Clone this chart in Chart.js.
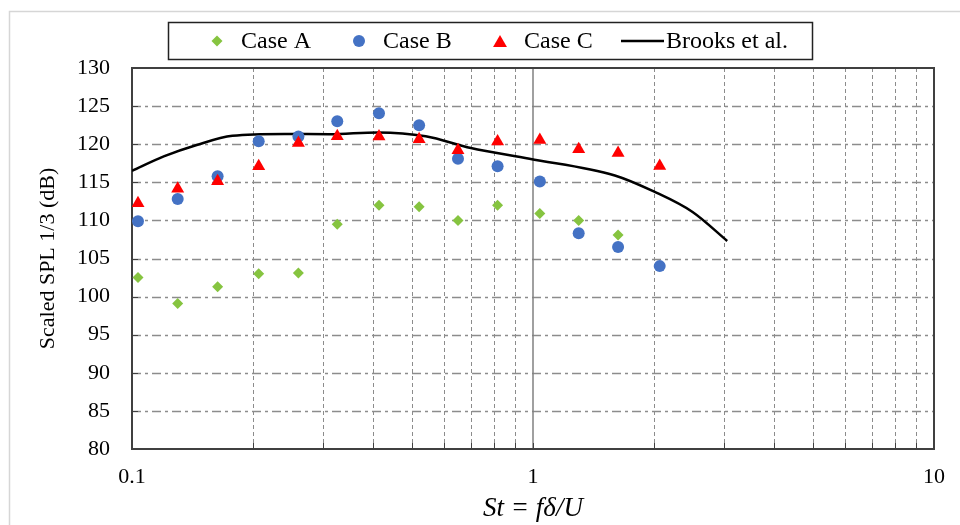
<!DOCTYPE html>
<html>
<head>
<meta charset="utf-8">
<script src="https://cdn.jsdelivr.net/npm/chart.js@4.4.1/dist/chart.umd.min.js"></script>
<style>
  html, body { margin: 0; padding: 0; background: #fff; }
  #wrap { width: 960px; height: 525px; }
</style>
</head>
<body>
<div id="wrap"><canvas id="chart" width="960" height="525"></canvas></div>
<script>
// Strouhal numbers (1/3 octave bands) shared by the three cases
const strouhal = [0.1035, 0.130, 0.1635, 0.207, 0.260, 0.325, 0.413, 0.520, 0.650, 0.816, 1.04, 1.30, 1.63, 2.07];
const caseA = [102.5, 99.1, 101.3, 103.0, 103.1, 109.5, 112.0, 111.8, 110.0, 112.0, 110.9, 110.0, 108.1, null];
const caseB = [109.9, 112.8, 115.8, 120.4, 121.0, 123.0, 124.05, 122.5, 118.1, 117.1, 115.1, 108.3, 106.5, 104.0];
const caseC = [112.25, 114.15, 115.15, 117.1, 120.15, 121.05, 121.0, 120.65, 119.2, 120.35, 120.55, 119.35, 118.85, 117.15];

const brooksSt  = [0.1, 0.12, 0.145, 0.178, 0.24, 0.31, 0.41, 0.54, 0.70, 0.98, 1.6, 2.0, 2.5, 3.05];
const brooksSpl = [116.5, 118.4, 119.9, 121.1, 121.35, 121.3, 121.55, 121.05, 119.5, 118.1, 115.9, 113.8, 111.1, 107.3];

const xTicks = [0.1, 1, 10];
const yMin = 80, yMax = 130, yStep = 5;

const FONT = '"Liberation Serif", "Times New Roman", serif';

const pts = (xs, ys) => xs.map((x, i) => ({ x, y: ys[i] })).filter(p => p.y !== null);

function drawMarker(ctx, style, x, y, r, color) {
  ctx.fillStyle = color;
  ctx.beginPath();
  if (style === 'circle') {
    ctx.arc(x, y, r, 0, Math.PI * 2);
  } else if (style === 'rectRot') {
    ctx.moveTo(x, y - r); ctx.lineTo(x + r, y); ctx.lineTo(x, y + r); ctx.lineTo(x - r, y);
  } else if (style === 'triangle') {
    ctx.moveTo(x, y - r); ctx.lineTo(x + r * 0.866, y + r / 2); ctx.lineTo(x - r * 0.866, y + r / 2);
  }
  ctx.closePath();
  ctx.fill();
}

// grid, frame, inner ticks, outer border and the boxed legend
const decor = {
  id: 'decor',
  beforeDraw(chart) {
    const ctx = chart.ctx;
    ctx.save();
    ctx.strokeStyle = '#d6d6d6';
    ctx.lineWidth = 1.5;
    ctx.strokeRect(9.5, 11.5, 1000, 600);
    ctx.restore();
  },
  beforeDatasetsDraw(chart) {
    const { ctx, chartArea: a, scales: { x, y } } = chart;
    ctx.save();
    // horizontal dash-dot grid
    ctx.strokeStyle = '#8c8c8c';
    ctx.lineWidth = 1.5;
    ctx.setLineDash([9, 4, 3, 4]);
    for (let v = yMin + yStep; v < yMax; v += yStep) {
      const py = Math.round(y.getPixelForValue(v)) + 0.5;
      ctx.beginPath(); ctx.moveTo(a.left, py); ctx.lineTo(a.right, py); ctx.stroke();
    }
    // vertical minor grid
    ctx.lineWidth = 1;
    ctx.strokeStyle = '#8c8c8c';
    ctx.setLineDash([4, 3]);
    const minors = [];
    for (let d = 0.1; d < 10; d *= 10) {
      for (let k = 2; k <= 9; k++) minors.push(k * d);
    }
    minors.forEach(v => {
      const px = Math.round(x.getPixelForValue(v)) + 0.5;
      ctx.beginPath(); ctx.moveTo(px, a.top); ctx.lineTo(px, a.bottom); ctx.stroke();
    });
    // solid line at St = 1
    ctx.setLineDash([]);
    ctx.strokeStyle = '#808080';
    ctx.lineWidth = 1.5;
    const p1 = x.getPixelForValue(1);
    ctx.beginPath(); ctx.moveTo(p1, a.top); ctx.lineTo(p1, a.bottom); ctx.stroke();
    // inner tick marks
    ctx.strokeStyle = '#404040';
    ctx.lineWidth = 1;
    minors.concat([1]).forEach(v => {
      const px = Math.round(x.getPixelForValue(v)) + 0.5;
      ctx.beginPath(); ctx.moveTo(px, a.bottom - 6); ctx.lineTo(px, a.bottom); ctx.stroke();
    });
    for (let v = yMin + yStep; v < yMax; v += yStep) {
      const py = Math.round(y.getPixelForValue(v)) + 0.5;
      ctx.beginPath(); ctx.moveTo(a.left, py); ctx.lineTo(a.left + 6, py); ctx.stroke();
    }
    // plot frame
    ctx.strokeStyle = '#404040';
    ctx.lineWidth = 2;
    ctx.strokeRect(a.left, a.top, a.right - a.left, a.bottom - a.top);
    ctx.restore();
  },
  afterDraw(chart) {
    const ctx = chart.ctx;
    const ds = chart.data.datasets;
    ctx.save();
    ctx.fillStyle = '#fff';
    ctx.fillRect(168, 22, 644, 37);
    ctx.strokeStyle = '#222';
    ctx.lineWidth = 1.5;
    ctx.strokeRect(168.5, 22.5, 644, 37);

    const markX = [217, 359, 500];
    const textX = [241, 383, 524, 666];
    const legR = [5.5, 6, 8];
    const legY = [41, 41, 43];
    for (let i = 0; i < 3; i++) {
      drawMarker(ctx, ds[i].pointStyle, markX[i], legY[i], legR[i], ds[i].backgroundColor);
    }
    ctx.strokeStyle = ds[3].borderColor;
    ctx.lineWidth = 2.5;
    ctx.beginPath(); ctx.moveTo(621, 41); ctx.lineTo(664, 41); ctx.stroke();

    ctx.fillStyle = '#000';
    ctx.font = '24px ' + FONT;
    ctx.textBaseline = 'alphabetic';
    ctx.textAlign = 'left';
    ds.forEach((d, i) => ctx.fillText(d.label, textX[i], 48));
    ctx.restore();
  }
};

new Chart(document.getElementById('chart'), {
  type: 'scatter',
  data: {
    datasets: [
      { label: 'Case A', data: pts(strouhal, caseA), pointStyle: 'rectRot', pointRadius: 5.5,
        backgroundColor: '#86C440', borderWidth: 0, order: 2 },
      { label: 'Case B', data: pts(strouhal, caseB), pointStyle: 'circle', pointRadius: 6,
        backgroundColor: '#4472C4', borderWidth: 0, order: 1 },
      { label: 'Case C', data: pts(strouhal, caseC), pointStyle: 'triangle', pointRadius: 7.5,
        backgroundColor: '#FF0000', borderWidth: 0, order: 0 },
      { label: 'Brooks et al.', data: pts(brooksSt, brooksSpl), showLine: true, pointRadius: 0,
        borderColor: '#000', borderWidth: 2.5, cubicInterpolationMode: 'monotone', order: 3 },
    ],
  },
  options: {
    responsive: false,
    animation: false,
    layout: { padding: { top: 68, right: 23, left: 0, bottom: 0 } },
    plugins: { legend: { display: false }, tooltip: { enabled: false } },
    scales: {
      x: {
        type: 'logarithmic', min: 0.1, max: 10,
        grid: { display: false, drawTicks: false },
        border: { display: false },
        afterBuildTicks: s => { s.ticks = xTicks.map(v => ({ value: v })); },
        afterFit: s => { s.height = 76; },
        ticks: { autoSkip: false, maxRotation: 0, padding: 15, color: '#000',
                 font: { family: FONT, size: 22 }, callback: v => String(v) },
        title: { display: true, text: 'St = fδ/U', color: '#000',
                 font: { family: FONT, size: 27, style: 'italic' }, padding: { top: 0, bottom: 0 } },
      },
      y: {
        min: yMin, max: yMax,
        grid: { display: false, drawTicks: false },
        border: { display: false },
        afterFit: s => { s.width = 132; },
        ticks: { stepSize: yStep, padding: 22, color: '#000', font: { family: FONT, size: 22 } },
        title: { display: true, text: 'Scaled SPL 1/3 (dB)', color: '#000',
                 font: { family: FONT, size: 22 }, padding: { top: 35, bottom: 0 } },
      },
    },
  },
  plugins: [decor],
});
</script>
</body>
</html>
